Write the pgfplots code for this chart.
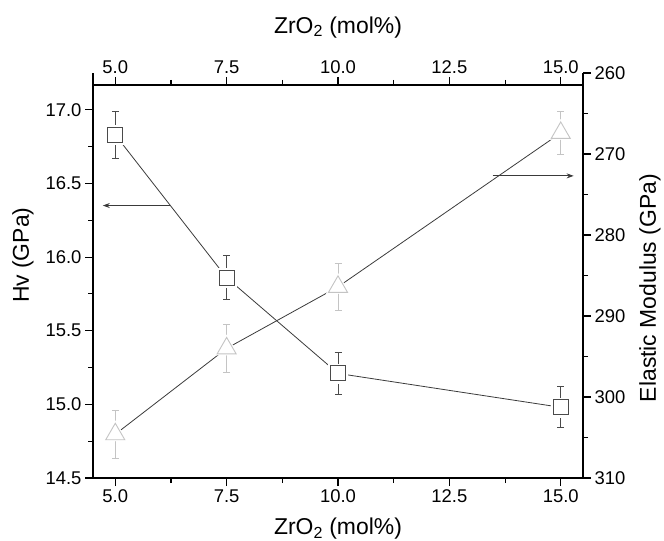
\documentclass[border=0pt]{standalone}
\usepackage{fontspec}
\setmainfont{Liberation Sans}
\usepackage{pgfplots}
\pgfplotsset{compat=1.18}
\usetikzlibrary{arrows.meta}
\definecolor{sqc}{HTML}{4A4A4A}
\definecolor{trc}{HTML}{C4C4C4}
\definecolor{lnc}{HTML}{3A3A3A}
\begin{document}
\begin{tikzpicture}
\useasboundingbox (0,0) rectangle (664bp,541bp);
\pgfplotsset{
  every axis/.append style={
    scale only axis, width=490bp,
    at={(93bp,63bp)}, anchor=south west,
    xmin=4.5, xmax=15.5,
    tick align=outside,
    major tick length=8bp, minor tick length=5bp,
    every tick/.style={black, line width=1.1pt},
    axis line style={line width=1.3pt, -},
    /pgf/number format/assume math mode=true,
    tick label style={font=\fontsize{18.5}{20}\selectfont},
    label style={font=\fontsize{23}{26}\selectfont},
    xtick={5,7.5,10,12.5,15}, minor x tick num=1,
    xticklabel style={/pgf/number format/.cd, fixed, fixed zerofill, precision=1},
  }
}
% left axis: Hv
\begin{axis}[
  height=405bp,
  axis x line*=bottom, axis y line*=left,
  ymin=14.5, ymax=17.25,
  ytick={14.5,15,15.5,16,16.5,17}, minor y tick num=1,
  yticklabel style={/pgf/number format/.cd, fixed, fixed zerofill, precision=1},
  xlabel={ZrO\textsubscript{2} (mol\%)},
  ylabel={Hv (GPa)},
  xlabel style={at={(axis description cs:0.5,-0.1407)}, anchor=base},
  ylabel style={at={(axis description cs:-0.1429,0.55)}, anchor=center},
]
\addplot[lnc, line width=0.8pt] coordinates {(5,16.83) (7.5,15.86) (10,15.21) (15,14.98)};
\addplot[only marks, mark=square*, mark size=9.5bp, mark options={fill=white, draw=white}] coordinates {(5,16.83) (7.5,15.86) (10,15.21) (15,14.98)};
\addplot[sqc, line width=0.9pt, only marks, mark=square*, mark size=7.5bp,
  mark options={fill=white, draw=sqc, line width=0.9pt},
  error bars/.cd, y dir=both, y explicit,
  error bar style={sqc, line width=0.9pt},
  error mark options={rotate=90, mark size=3.5bp, sqc, line width=0.9pt}]
  coordinates {(5,16.83) +- (0,0.16) (7.5,15.86) +- (0,0.15) (10,15.21) +- (0,0.14) (15,14.98) +- (0,0.14)};
\draw[-{Stealth[length=7bp,width=5bp]}, lnc, line width=0.8pt] (axis cs:6.23,16.35) -- (axis cs:4.72,16.35);
\end{axis}
% right axis: Elastic modulus
\begin{axis}[
  height=405bp,
  hide x axis, axis y line*=right,
  ymin=260, ymax=310, y dir=reverse,
  ytick={260,270,280,290,300,310}, minor y tick num=1,
  ylabel={Elastic Modulus (GPa)},
  ylabel style={at={(axis description cs:1.1367,0.469)}, anchor=center},
]
\addplot[lnc, line width=0.8pt] coordinates {(5,304.6) (7.5,294.0) (10,286.4) (15,267.4)};
\addplot[only marks, mark=triangle*, mark size=13.5bp, mark options={fill=white, draw=white}] coordinates {(5,304.6) (7.5,294.0) (10,286.4) (15,267.4)};
\addplot[trc, line width=0.9pt, only marks, mark=triangle*, mark size=11bp,
  mark options={fill=white, draw=trc, line width=0.9pt},
  error bars/.cd, y dir=both, y explicit,
  error bar style={trc, line width=0.9pt},
  error mark options={rotate=90, mark size=3.5bp, trc, line width=0.9pt}]
  coordinates {(5,304.6) +- (0,3.0) (7.5,294.0) +- (0,3.0) (10,286.4) +- (0,2.9) (15,267.4) +- (0,2.7)};
\draw[-{Stealth[length=7bp,width=5bp]}, lnc, line width=0.8pt] (axis cs:13.47,272.7) -- (axis cs:15.29,272.7);
\end{axis}
% top x axis
\begin{axis}[
  height=393bp,
  hide y axis, axis x line*=top,
  ymin=0, ymax=1,
  xlabel={ZrO\textsubscript{2} (mol\%)},
  xlabel style={at={(axis description cs:0.5,1.1323)}, anchor=base},
]
\addplot[draw=none] coordinates {(5,0.5)};
\end{axis}
\end{tikzpicture}
\end{document}
